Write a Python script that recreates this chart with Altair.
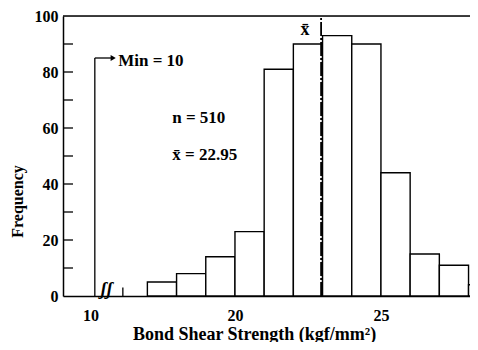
import altair as alt
import pandas as pd

# ---- data ----
bin_start = [17, 18, 19, 20, 21, 22, 23, 24, 25, 26, 27, 28]
bin_end = [18, 19, 20, 21, 22, 23, 24, 25, 26, 27, 28, 29]
counts = [5, 8, 14, 23, 81, 90, 93, 90, 44, 15, 11, 4]
y_ticks = [0, 20, 40, 60, 80, 100]
y_minor = [10, 20, 30, 40, 50, 60, 70, 80, 90]
x_tick_labels = ["10", "20", "25"]
mean_value = 22.95
n_value = 510
min_value = 10

# axis-break position (the "10" sits at the broken left end of the axis)
BREAK = 15.05
X_DOMAIN = [14.11, 28.05]
FONT = "Liberation Serif"

bars = pd.DataFrame({"start": bin_start, "end": bin_end, "count": counts})

xscale = alt.Scale(domain=X_DOMAIN, nice=False, zero=False)
yscale = alt.Scale(domain=[0, 100], nice=False)

xaxis = alt.Axis(
    values=[BREAK, 20, 25],
    labelExpr=f"datum.value < 16 ? '{x_tick_labels[0]}' : datum.label",
    ticks=False, grid=False, labelPadding=11, labelFont=FONT, labelFontSize=16,
    labelFontWeight="bold", labelColor="black", domainColor="black", domainWidth=1.5,
    title="Bond Shear Strength (kgf/mm²)", titleFont=FONT, titleFontSize=18,
    titleFontWeight="bold", titleColor="black", titleX=191, titleY=43,
    titleAlign="center", titleBaseline="alphabetic",
)
yaxis = alt.Axis(
    values=y_ticks, ticks=False, grid=False, labelPadding=5, labelFont=FONT,
    labelFontSize=16, labelFontWeight="bold", labelColor="black",
    domainColor="black", domainWidth=1.5,
    title="Frequency", titleFont=FONT, titleFontSize=16, titleFontWeight="bold",
    titleColor="black", titleX=-46, titleY=185, titleAlign="center",
    titleBaseline="middle", titleAngle=-90,
)

base_x = lambda f: alt.X(f"{f}:Q", scale=xscale, axis=xaxis)
base_y = lambda f: alt.Y(f"{f}:Q", scale=yscale, axis=yaxis)

bar_layer = alt.Chart(bars).mark_bar(
    fill="white", stroke="black", strokeWidth=1.4, clip=True
).encode(x=base_x("start"), x2="end:Q", y=base_y("count"), y2=alt.datum(0))

# inward y ticks
tick_layer = alt.Chart(pd.DataFrame({"v": y_minor})).mark_rule(
    color="black", strokeWidth=1.3
).encode(y=base_y("v"), x=alt.value(0), x2=alt.value(10))

# top border line
top_layer = alt.Chart(pd.DataFrame({"v": [100]})).mark_rule(
    color="black", strokeWidth=1.3
).encode(y=base_y("v"), x=alt.value(0), x2=alt.value(407))

# mean line
mean_layer = alt.Chart(pd.DataFrame({"m": [mean_value], "y0": [0], "y1": [100]})).mark_rule(
    color="black", strokeWidth=1.8, strokeDash=[14, 2, 2, 2]
).encode(x=base_x("m"), y=base_y("y0"), y2="y1:Q")

# min marker: vertical line, horizontal shaft, arrowhead
min_v = alt.Chart(pd.DataFrame({"x": [15.2], "y0": [0], "y1": [85]})).mark_rule(
    color="black", strokeWidth=1.3
).encode(x=base_x("x"), y=base_y("y0"), y2="y1:Q")
min_h = alt.Chart(pd.DataFrame({"x0": [15.2], "x1": [15.8], "y": [85]})).mark_rule(
    color="black", strokeWidth=1.3
).encode(x=base_x("x0"), x2="x1:Q", y=base_y("y"))
arrow = alt.Chart(pd.DataFrame({"x": [15.83], "y": [85]})).mark_point(
    shape="triangle-right", filled=True, color="black", size=35, opacity=1
).encode(x=base_x("x"), y=base_y("y"))

# small stub tick near axis break
stub = alt.Chart(pd.DataFrame({"x": [16.16], "y0": [0], "y1": [3]})).mark_rule(
    color="black", strokeWidth=1.3
).encode(x=base_x("x"), y=base_y("y0"), y2="y1:Q")

texts = pd.DataFrame({
    "x": [16.0, 17.85, 17.85],
    "y": [84, 63.6, 50.4],
    "t": [f"Min = {min_value}", f"n = {n_value}", f"x̄ = {mean_value}"],
})
text_layer = alt.Chart(texts).mark_text(
    align="left", baseline="middle", font=FONT, fontSize=17, fontWeight="bold", color="black"
).encode(x=base_x("x"), y=base_y("y"), text="t:N")

xbar = alt.Chart(pd.DataFrame({"x": [22.4], "y": [95], "t": ["x̄"]})).mark_text(
    align="center", baseline="middle", font=FONT, fontSize=18, fontWeight="bold", color="black"
).encode(x=base_x("x"), y=base_y("y"), text="t:N")

brk = alt.Chart(pd.DataFrame({"x": [15.6], "y": [2], "t": ["ʃʃ"]})).mark_text(
    align="center", baseline="middle", font=FONT, fontSize=18, fontStyle="italic",
    fontWeight="bold", color="black"
).encode(x=base_x("x"), y=base_y("y"), text="t:N")

chart = alt.layer(
    bar_layer, tick_layer, top_layer, mean_layer, min_v, min_h, arrow, stub,
    text_layer, xbar, brk,
).properties(
    width=407, height=280,
    autosize=alt.AutoSizeParams(type="none"),
    padding={"left": 55, "top": 8, "right": 0, "bottom": 46},
).configure_view(stroke=None).configure(background="white")

chart.save("out.html", embed_options={"renderer": "svg", "actions": False})
